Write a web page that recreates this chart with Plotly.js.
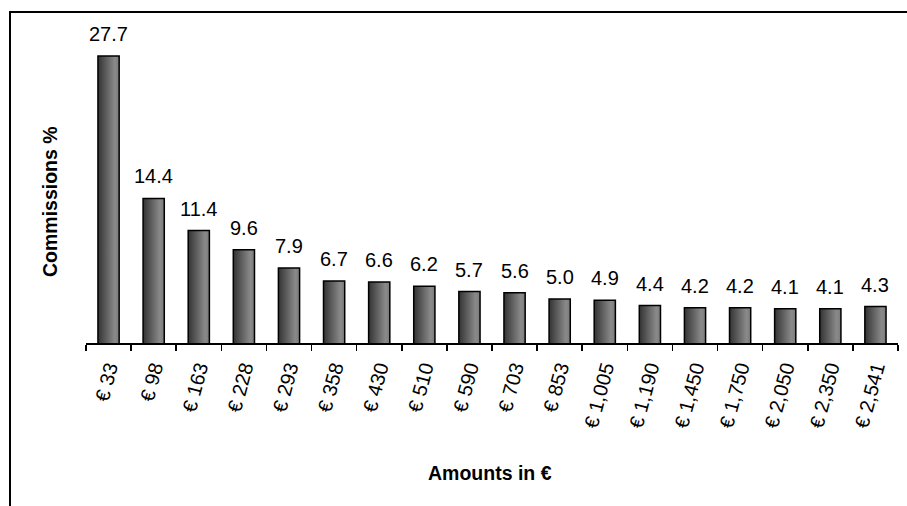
<!DOCTYPE html>
<html>
<head>
<meta charset="utf-8">
<script src="https://cdn.plot.ly/plotly-3.0.1.min.js"></script>
<style>
  html, body { margin: 0; padding: 0; background: #fff; }
  #chart { width: 907px; height: 506px; }
</style>
</head>
<body>
<div id="chart"></div>
<script>
const categories = ["€ 33", "€ 98", "€ 163", "€ 228", "€ 293", "€ 358", "€ 430", "€ 510", "€ 590",
                    "€ 703", "€ 853", "€ 1,005", "€ 1,190", "€ 1,450", "€ 1,750", "€ 2,050", "€ 2,350", "€ 2,541"];
const commissions = [27.7, 14.4, 11.4, 9.6, 7.9, 6.7, 6.6, 6.2, 5.7, 5.6, 5.0, 4.9, 4.4, 4.2, 4.2, 4.1, 4.1, 4.3];
const xTitle = "Amounts in €";
const yTitle = "Commissions %";

const FONT = "Arial, 'Liberation Sans', sans-serif";

const trace = {
  type: "bar",
  x: categories,
  y: commissions,
  marker: { color: "#6e6e6e", line: { color: "#000", width: 1.5 } },
  hoverinfo: "skip"
};

const valueLabels = categories.map((c, i) => ({
  x: c, y: commissions[i], xref: "x", yref: "y",
  text: commissions[i].toFixed(1),
  showarrow: false, yanchor: "bottom", yshift: 9,
  font: { family: FONT, size: 20, color: "#000" }
}));

const layout = {
  width: 907, height: 506,
  margin: { l: 86, r: 9, t: 20, b: 163 },
  paper_bgcolor: "#fff", plot_bgcolor: "#fff",
  showlegend: false,
  bargap: 0.53,
  font: { family: FONT, size: 20, color: "#000" },
  xaxis: {
    type: "category",
    showline: true, linecolor: "#000", linewidth: 1.5,
    ticks: "outside", tickson: "boundaries", ticklen: 6, tickcolor: "#000", tickwidth: 1.5,
    tickangle: -75, ticklabelstandoff: 4,
    tickfont: { family: FONT, size: 20, color: "#000" },
    showgrid: false, zeroline: false, fixedrange: true
  },
  yaxis: {
    range: [0.9, 31.06],
    showline: false, showgrid: false, zeroline: false,
    showticklabels: false, ticks: "", fixedrange: true
  },
  annotations: valueLabels.concat([
    { text: xTitle, xref: "paper", yref: "paper", x: (490 - 86) / 812, y: (343 - 473) / 323,
      xanchor: "center", yanchor: "middle", showarrow: false,
      font: { family: FONT, size: 19.5, color: "#000", weight: "bold" } },
    { text: yTitle, xref: "paper", yref: "paper", x: (50 - 86) / 812, y: (343 - 202) / 323,
      xanchor: "center", yanchor: "middle", showarrow: false, textangle: -90,
      font: { family: FONT, size: 19.5, color: "#000", weight: "bold" } }
  ]),
  shapes: [{
    type: "rect", xref: "paper", yref: "paper",
    x0: (10 - 86) / 812, x1: (920 - 86) / 812,
    y0: (343 - 520) / 323, y1: (343 - 12) / 323,
    line: { color: "#000", width: 2 }, fillcolor: "rgba(0,0,0,0)", layer: "below"
  }]
};

Plotly.newPlot("chart", [trace], layout, { staticPlot: true, displayModeBar: false }).then(gd => {
  const svg = gd.querySelector("svg.main-svg");
  const ns = "http://www.w3.org/2000/svg";
  let defs = svg.querySelector("defs");
  if (!defs) { defs = document.createElementNS(ns, "defs"); svg.insertBefore(defs, svg.firstChild); }
  const grad = document.createElementNS(ns, "linearGradient");
  grad.setAttribute("id", "barGrad");
  grad.setAttribute("x1", "0"); grad.setAttribute("x2", "1");
  grad.setAttribute("y1", "0"); grad.setAttribute("y2", "0");
  [["0", "#333333"], ["0.55", "#6f6f6f"], ["0.8", "#8a8a8a"], ["1", "#7a7a7a"]].forEach(([o, c]) => {
    const s = document.createElementNS(ns, "stop");
    s.setAttribute("offset", o); s.setAttribute("stop-color", c);
    grad.appendChild(s);
  });
  defs.appendChild(grad);
  gd.querySelectorAll(".barlayer .point path").forEach(p => { p.style.fill = "url(#barGrad)"; });
});
</script>
</body>
</html>
